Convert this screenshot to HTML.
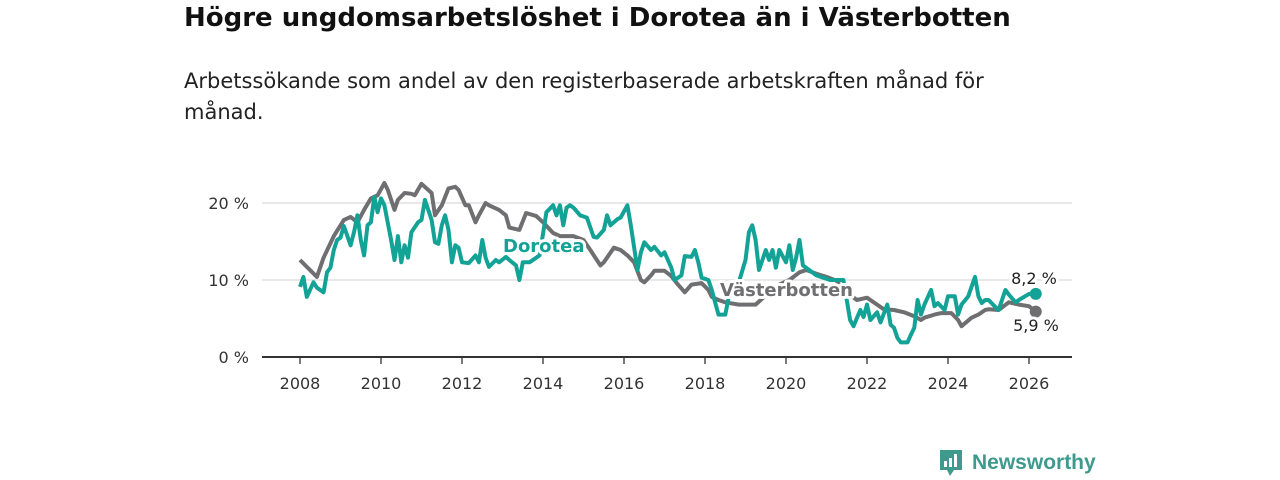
<!DOCTYPE html>
<html><head><meta charset="utf-8">
<style>
html,body{margin:0;padding:0;background:#fff;width:1280px;height:480px;overflow:hidden;font-family:"DejaVu Sans","Liberation Sans",sans-serif;}
#title{position:absolute;left:184px;top:3px;font-size:26px;font-weight:bold;color:#111;margin:0;white-space:nowrap;}
#sub{position:absolute;left:184px;top:66px;font-size:21px;line-height:31px;color:#222;width:840px;margin:0;}
svg{position:absolute;left:0;top:0;}
</style></head><body>
<h1 id="title">Högre ungdomsarbetslöshet i Dorotea än i Västerbotten</h1>
<p id="sub">Arbetssökande som andel av den registerbaserade arbetskraften månad för månad.</p>
<svg id="chart" width="1280" height="480" style="font-family:'DejaVu Sans','Liberation Sans',sans-serif"></svg>
<script>
const yTicks=[0,10,20];
const xYears=[2008,2010,2012,2014,2016,2018,2020,2022,2024,2026];
const vbMonths=[0,5,7,10,13,15,17,19,21,23,25,26,28,29,31,33,34,36,39,40,42,44,46,47,49,50,52,53,55,56,59,61,62,65,67,70,72,75,77,81,84,86,89,90,93,95,97,99,101,102,104,105,108,110,112,114,116,119,121,122,124,126,130,135,139,142,145,148,150,153,156,159,161,165,168,171,173,176,179,182,184,185,188,190,193,195,196,199,201,203,204,207,210,213,216,218];
const vbValues=[12.6,10.4,12.9,15.7,17.8,18.2,17.5,19.1,20.6,21.0,22.6,21.7,19.1,20.4,21.3,21.2,21.0,22.5,21.3,18.4,19.7,21.9,22.1,21.7,19.7,19.7,17.5,18.4,20.0,19.7,19.1,18.4,16.8,16.5,18.7,18.3,17.5,16.1,15.7,15.7,15.2,13.9,11.9,12.3,14.2,13.9,13.2,12.3,10.0,9.7,10.6,11.2,11.2,10.5,9.4,8.4,9.4,9.6,8.7,7.8,7.4,7.1,6.8,6.8,8.4,9.4,10.0,11.0,11.3,10.8,10.4,9.9,8.7,7.4,7.7,6.8,6.2,6.1,5.8,5.3,4.8,5.1,5.5,5.7,5.7,4.8,4.0,5.1,5.5,6.1,6.2,6.1,7.1,6.8,6.6,5.9];
const doMonths=[0,1,2,4,5,7,8,9,10,11,12,13,15,16,17,18,19,20,21,22,23,24,25,27,28,29,30,31,32,33,35,36,37,39,40,41,42,43,44,45,46,47,48,50,52,53,54,55,56,58,59,61,62,64,65,66,68,71,73,75,76,77,78,79,80,81,83,85,87,88,90,91,92,94,95,97,98,100,101,102,104,105,107,108,110,111,113,114,116,117,118,119,121,122,123,124,126,127,129,130,132,133,134,135,136,138,139,140,141,142,144,145,146,147,148,149,153,157,161,163,164,166,167,168,169,171,172,174,175,176,177,178,180,181,182,183,184,185,187,188,189,191,192,194,195,196,198,200,201,202,203,204,206,207,209,210,212,213,216,218];
const doValues=[9.1,10.4,7.8,9.7,9.0,8.4,11.0,11.6,13.9,15.2,15.5,17.0,14.5,16.2,18.4,15.2,13.2,17.1,17.5,20.8,18.8,20.6,19.7,15.2,12.6,15.7,12.3,14.5,12.9,16.2,17.5,17.8,20.4,17.8,14.9,14.7,17.1,18.4,16.5,12.3,14.5,14.2,12.3,12.2,13.2,12.3,15.2,12.9,11.7,12.6,12.3,13.0,12.6,11.9,10.0,12.3,12.3,13.2,18.8,19.7,18.4,19.7,17.1,19.4,19.7,19.4,18.4,18.1,15.6,15.5,16.5,18.4,17.1,17.9,18.1,19.7,17.1,11.3,13.6,14.9,13.9,14.3,13.2,13.6,11.6,10.0,10.6,13.1,13.0,13.9,12.3,10.3,10.0,8.7,7.1,5.5,5.5,7.7,8.7,9.7,12.6,16.2,17.1,15.2,11.3,13.9,12.6,13.9,11.6,13.9,12.3,14.5,11.3,12.9,15.2,11.9,10.6,10.0,10.0,4.8,4.0,6.1,5.2,6.8,4.8,5.8,4.5,6.8,4.2,3.8,2.5,1.9,1.9,2.9,3.8,7.4,5.5,6.8,8.7,6.6,7.0,6.1,7.9,7.9,5.5,6.8,7.9,10.4,7.9,7.0,7.4,7.4,6.5,6.1,8.7,8.1,7.1,7.4,8.2,8.2];
const svg=document.getElementById('chart');
const NS='http://www.w3.org/2000/svg';
const X0=300, PXY=40.5, Y0=357, PXP=7.7;
function xm(m){return X0+m/12*PXY;}
function xy(yr){return X0+(yr-2008)*PXY;}
function yv(v){return Y0-v*PXP;}
function mk(tag,attrs,parent){const e=document.createElementNS(NS,tag);for(const k in attrs)e.setAttribute(k,attrs[k]);(parent||svg).appendChild(e);return e;}
yTicks.forEach(t=>{
  if(t>0){const g=mk('line',{x1:262,x2:1072,y1:yv(t),y2:yv(t),stroke:'#d9d9d9','stroke-width':1.3});
  
  }
  const tx=mk('text',{x:249,y:yv(t)+6,'text-anchor':'end','font-size':16,fill:'#333'});
  tx.textContent=t+' %';
  
  
});
const ax=mk('line',{x1:262,x2:1072,y1:Y0,y2:Y0,stroke:'#333','stroke-width':2});


xYears.forEach(yr=>{
  const tk=mk('line',{x1:xy(yr),x2:xy(yr),y1:Y0,y2:Y0+7,stroke:'#333','stroke-width':1.3});
  
  
  const tx=mk('text',{x:xy(yr),y:Y0+32,'text-anchor':'middle','font-size':16,fill:'#333'});
  tx.textContent=yr;
  
  
});
function path(ms,vs){return ms.map((m,i)=>(i?'L':'M')+xm(m).toFixed(1)+' '+yv(vs[i]).toFixed(1)).join(' ');}
const gl=mk('path',{d:path(vbMonths,vbValues),fill:'none',stroke:'#6f6e70','stroke-width':4,'stroke-linejoin':'round'});


const tl=mk('path',{d:path(doMonths,doValues),fill:'none',stroke:'#13a396','stroke-width':4,'stroke-linejoin':'round'});


const gd=mk('circle',{cx:xm(vbMonths[vbMonths.length-1]),cy:yv(vbValues[vbValues.length-1]),r:6,fill:'#6f6e70'});


const td=mk('circle',{cx:xm(doMonths[doMonths.length-1]),cy:yv(doValues[doValues.length-1]),r:6,fill:'#13a396'});


function label(txt,x,y,col,name,bold,anchor){
  const t=mk('text',{x:x,y:y,'font-size':bold?18:16,'font-weight':bold?'bold':'normal',fill:col,stroke:'#fff','stroke-width':6,'paint-order':'stroke','stroke-linejoin':'round','text-anchor':anchor||'start'});
  t.textContent=txt;
  
  
}
label('Dorotea',503,252,'#13a396','dorotea-label',true);
label('Västerbotten',720,296,'#6f6e70','vasterbotten-label',true);
label('8,2 %',1034,284,'#222','dorotea-end-value',false,'middle');
label('5,9 %',1036,331,'#222','vasterbotten-end-value',false,'middle');
</script>
<div style="position:absolute;left:938px;top:449px;height:28px;display:flex;align-items:center;">
<svg width="26" height="30" viewBox="0 0 26 30" style="position:static"><path d="M2 2h22v20h-8l-4 6-3-6H2z" fill="#3f9a8d"/><rect x="6" y="13" width="3" height="6" fill="#fff"/><rect x="11" y="10" width="3" height="9" fill="#fff"/><rect x="16" y="6" width="3" height="13" fill="#fff"/></svg>
<span style="margin-left:8px;font-size:21px;font-weight:bold;color:#3f9a8d;font-family:'Liberation Sans',sans-serif">Newsworthy</span>
</div>
</body></html>
